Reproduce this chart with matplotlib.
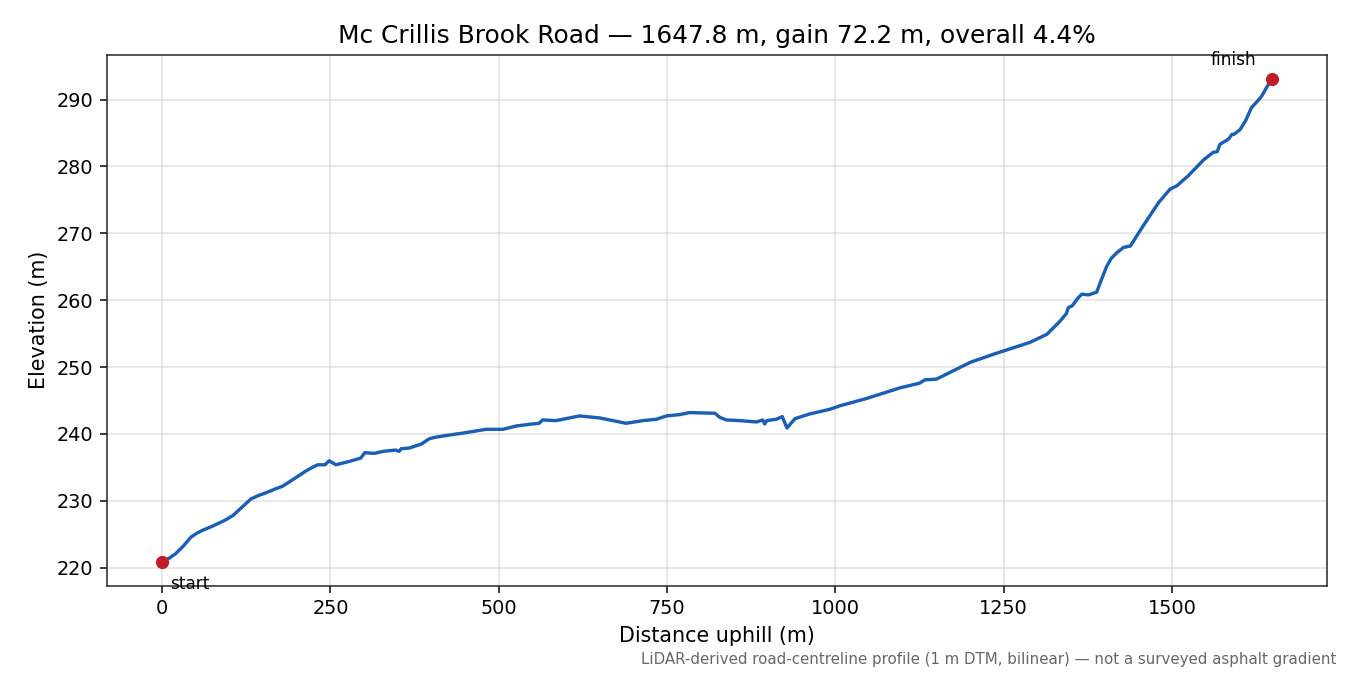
import matplotlib
matplotlib.use("Agg")
import matplotlib.pyplot as plt

distance = [0, 10, 20, 32, 43, 52, 60, 72, 85, 95, 105, 118, 132, 143, 154, 166, 179, 196,
            214, 223, 231, 242, 248, 258, 278, 295, 301, 315, 328, 347, 352, 355, 367, 385,
            397, 405, 417, 451, 481, 506, 526, 550, 560, 565, 585, 620, 650, 689, 714, 734,
            749, 769, 783, 821, 828, 838, 858, 883, 892, 895, 898, 912, 921, 928, 940, 962,
            992, 1006, 1046, 1096, 1125, 1133, 1150, 1170, 1200, 1234, 1289, 1314, 1333,
            1343, 1346, 1352, 1360, 1366, 1376, 1388, 1394, 1403, 1410, 1418, 1428, 1438,
            1457, 1480, 1497, 1507, 1524, 1547, 1561, 1567, 1571, 1584, 1589, 1592, 1601,
            1609, 1618, 1629, 1633, 1647.8]
elevation = [220.9, 221.4, 222.1, 223.3, 224.6, 225.2, 225.6, 226.1, 226.7, 227.2, 227.8,
             229.0, 230.3, 230.8, 231.2, 231.7, 232.2, 233.3, 234.5, 235.0, 235.4, 235.4,
             236.0, 235.4, 235.9, 236.4, 237.2, 237.1, 237.4, 237.6, 237.4, 237.8, 237.9,
             238.5, 239.3, 239.5, 239.7, 240.2, 240.7, 240.7, 241.2, 241.5, 241.6, 242.1,
             242.0, 242.7, 242.4, 241.6, 242.0, 242.2, 242.7, 242.9, 243.2, 243.1, 242.5,
             242.1, 242.0, 241.8, 242.1, 241.5, 242.0, 242.2, 242.6, 240.9, 242.3, 243.0,
             243.7, 244.2, 245.3, 246.9, 247.6, 248.1, 248.2, 249.2, 250.7, 251.9, 253.7,
             254.9, 256.8, 258.0, 258.9, 259.2, 260.3, 260.9, 260.8, 261.2, 262.8, 265.1,
             266.3, 267.1, 267.9, 268.1, 271.1, 274.6, 276.6, 277.1, 278.6, 281.0, 282.1,
             282.2, 283.3, 284.1, 284.8, 284.8, 285.5, 286.8, 288.8, 290.0, 290.5, 293.1]

title = "Mc Crillis Brook Road \u2014 1647.8 m, gain 72.2 m, overall 4.4%"
note = "LiDAR-derived road-centreline profile (1 m DTM, bilinear) \u2014 not a surveyed asphalt gradient"

fig, ax = plt.subplots(figsize=(10, 5), dpi=135)
fig.subplots_adjust(left=0.079, right=0.983, top=0.919, bottom=0.132)

ax.plot(distance, elevation, color="#1a5fb4", lw=1.8)
ax.plot([distance[0], distance[-1]], [elevation[0], elevation[-1]], "o",
        color="#c01c28", ms=6, zorder=3)
ax.annotate("start", (distance[0], elevation[0]), xytext=(4, -7),
            textcoords="offset points", ha="left", va="top", fontsize=9)
ax.annotate("finish", (distance[-1], elevation[-1]), xytext=(-8, 5),
            textcoords="offset points", ha="right", va="bottom", fontsize=9)

ax.grid(True, color="#cccccc", alpha=0.6, lw=0.8)
ax.set_axisbelow(True)
for s in ax.spines.values():
    s.set_color("#222222")
ax.set_title(title, fontsize=13.3)
ax.set_xlabel("Distance uphill (m)", fontsize=11)
ax.set_ylabel("Elevation (m)", fontsize=11)
ax.tick_params(labelsize=10.3)
fig.text(0.99, 0.012, note, ha="right", va="bottom", fontsize=8, color="#666666")

fig.savefig("out.png", dpi=135)
